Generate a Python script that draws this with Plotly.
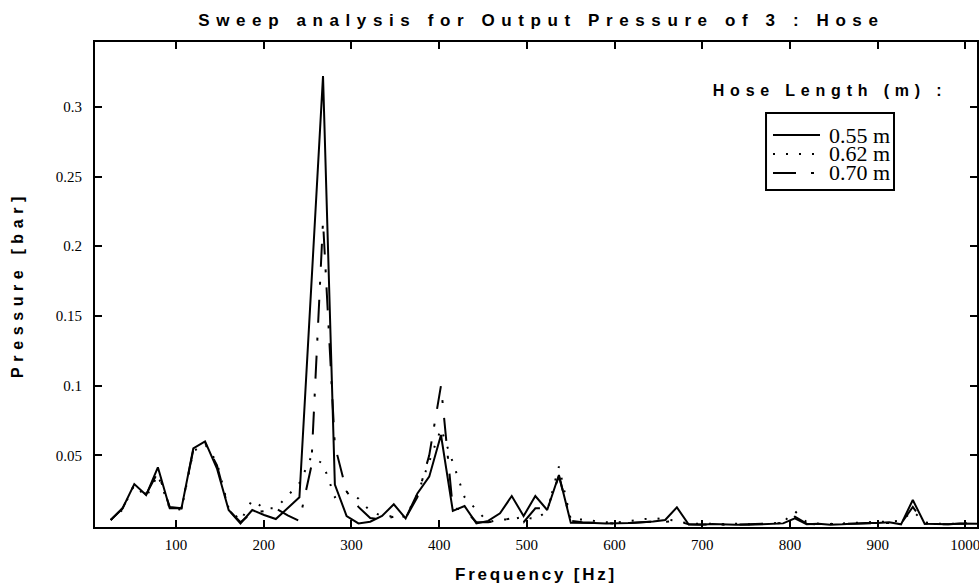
import plotly.graph_objects as go

# ---------------- data ----------------
freq_hz = [25.5, 39.0, 52.4, 65.9, 79.3, 92.8, 106.2, 119.7, 133.1, 146.6,
           160.0, 173.5, 186.9, 200.4, 213.8, 227.3, 240.7, 254.2, 267.6, 281.1,
           294.5, 308.0, 321.4, 334.9, 348.3, 361.8, 375.2, 388.7, 402.1, 415.6,
           429.0, 442.5, 455.9, 469.4, 482.8, 496.3, 509.7, 523.2, 536.6, 550.1,
           563.5, 577.0, 590.4, 603.9, 617.3, 630.8, 644.2, 657.7, 671.1, 684.6,
           698.0, 711.5, 724.9, 738.4, 751.8, 765.3, 778.7, 792.2, 805.6, 819.1,
           832.5, 846.0, 859.4, 872.9, 886.3, 899.8, 913.2, 926.7, 940.1, 953.6,
           967.0, 980.5, 993.9, 1007.4, 1020.8]

p_055 = [0.0036, 0.012, 0.0294, 0.0215, 0.0414, 0.012, 0.012, 0.055, 0.060, 0.0407,
         0.0108, 0.0012, 0.0108, 0.0072, 0.0043, 0.012, 0.0199, 0.171, 0.322, 0.029,
         0.0065, 0.0012, 0.0024, 0.0065, 0.0149, 0.0048, 0.0227, 0.0347, 0.0646, 0.0102,
         0.0136, 0.0012, 0.003, 0.0084, 0.0208, 0.0065, 0.0208, 0.0108, 0.0359, 0.0017,
         0.0018, 0.0015, 0.0012, 0.0012, 0.0015, 0.002, 0.0025, 0.0036, 0.0127, 0.0003,
         0.0002, 0.0008, 0.0003, 0.0002, 0.0002, 0.0005, 0.0010, 0.0012, 0.0048, 0.0005,
         0.0010, 0.0003, 0.0005, 0.0012, 0.0015, 0.0015, 0.0020, 0.0005, 0.0180, 0.0010,
         0.0010, 0.0005, 0.0012, 0.0012, 0.0008]

p_062 = [0.0036, 0.011, 0.029, 0.020, 0.036, 0.012, 0.011, 0.053, 0.058, 0.045,
         0.012, 0.003, 0.018, 0.012, 0.012, 0.021, 0.030, 0.049, 0.044, 0.020,
         0.024, 0.019, 0.010, 0.0065, 0.006, 0.006, 0.022, 0.045, 0.069, 0.045,
         0.020, 0.011, 0.002, 0.004, 0.004, 0.006, 0.004, 0.010, 0.042, 0.004,
         0.004, 0.003, 0.002, 0.002, 0.003, 0.004, 0.005, 0.004, 0.003, 0.001,
         0.0008, 0.0005, 0.0008, 0.001, 0.0005, 0.0008, 0.001, 0.002, 0.010, 0.002,
         0.001, 0.0008, 0.001, 0.0015, 0.002, 0.002, 0.0025, 0.003, 0.010, 0.002,
         0.001, 0.0008, 0.001, 0.0015, 0.001]

p_070 = [0.0036, 0.012, 0.029, 0.022, 0.038, 0.013, 0.012, 0.054, 0.059, 0.043,
         0.011, 0.002, 0.009, 0.010, 0.012, 0.007, 0.003, 0.042, 0.218, 0.057,
         0.024, 0.013, 0.005, 0.004, 0.006, 0.005, 0.020, 0.050, 0.100, 0.012,
         0.011, 0.002, 0.002, 0.003, 0.005, 0.002, 0.012, 0.012, 0.035, 0.003,
         0.002, 0.0015, 0.001, 0.001, 0.0015, 0.002, 0.0024, 0.0024, 0.003, 0.0005,
         0.0003, 0.0005, 0.0003, 0.0003, 0.0005, 0.0008, 0.001, 0.0015, 0.006, 0.001,
         0.0005, 0.0005, 0.0008, 0.001, 0.0012, 0.0015, 0.0015, 0.001, 0.013, 0.001,
         0.0008, 0.0005, 0.001, 0.001, 0.0008]

series_names = ["0.55 m", "0.62 m", "0.70 m"]
x_tick_vals = [100, 200, 300, 400, 500, 600, 700, 800, 900, 1000]
y_tick_vals = [0.05, 0.1, 0.15, 0.2, 0.25, 0.3]
y_tick_text = ["0.05", "0.1", "0.15", "0.2", "0.25", "0.3"]

# ---------------- styles ----------------
dash_styles = ["solid", "2px,11px", "23px,15px,3px,15px"]
SANS = "Liberation Sans, Arial, sans-serif"
SERIF = "Liberation Serif, Times New Roman, serif"

fig = go.Figure()
for name, vals, dash in zip(series_names, [p_055, p_062, p_070], dash_styles):
    fig.add_trace(go.Scatter(x=freq_hz, y=vals, mode="lines", name=name,
                             line=dict(color="black", width=2, dash=dash),
                             showlegend=False))

axis_common = dict(showline=True, linecolor="black", linewidth=2, mirror="ticks",
                   ticks="inside", ticklen=7, tickwidth=2, tickcolor="black",
                   showgrid=False, zeroline=False, automargin=False,
                   ticklabeloverflow="allow",
                   tickfont=dict(family=SERIF, size=15, color="black"))

fig.update_layout(
    width=979, height=587,
    margin=dict(l=95, r=2, t=42, b=60),
    paper_bgcolor="white", plot_bgcolor="white",
    title=dict(text="<b>Sweep analysis for Output Pressure of 3 : Hose</b>",
               x=0.553, xanchor="center", y=0.965, yanchor="middle",
               font=dict(family=SANS, size=17, color="black")),
    xaxis=dict(range=[7.6, 1013.3], tickvals=x_tick_vals,
               title=dict(text="<b>Frequency [Hz]</b>", standoff=16,
                          font=dict(family=SANS, size=17, color="black")),
               ticklabelstandoff=3, **axis_common),
    yaxis=dict(range=[-0.0014, 0.3465], tickvals=y_tick_vals, ticktext=y_tick_text,
               title=dict(text="<b>Pressure [bar]</b>", standoff=28,
                          font=dict(family=SANS, size=16, color="black")),
               ticklabelstandoff=8, **axis_common),
)

# ---------------- hand-built legend (box, samples, labels) ----------------
fig.add_shape(type="rect", xref="paper", yref="paper",
              x0=0.7608, x1=0.9059, y0=0.6948, y1=0.8536,
              line=dict(color="black", width=2), fillcolor="white", layer="above")
row_y = [0.8082, 0.7691, 0.7299]
for name, dash, yy in zip(series_names, dash_styles, row_y):
    fig.add_shape(type="line", xref="paper", yref="paper",
                  x0=0.7687, x1=0.8220, y0=yy, y1=yy,
                  line=dict(color="black", width=2, dash=dash), layer="above")
    fig.add_annotation(xref="paper", yref="paper", x=0.8299, y=yy,
                       xanchor="left", yanchor="middle", showarrow=False,
                       text=name, font=dict(family=SERIF, size=22, color="black"))
fig.add_annotation(xref="paper", yref="paper", x=0.8333, y=0.899,
                   xanchor="center", yanchor="middle", showarrow=False,
                   text="<b>Hose Length (m) :</b>",
                   font=dict(family=SANS, size=16, color="black"))

post = """
document.documentElement.style.margin='0';
document.body.style.margin='0';
document.body.style.padding='0';
var gd = document.getElementsByClassName('plotly-graph-div')[0];
function spread(){
  gd.querySelectorAll('.gtitle').forEach(function(t){t.style.letterSpacing='6.6px';});
  gd.querySelectorAll('.xtitle').forEach(function(t){t.style.letterSpacing='2.8px';});
  gd.querySelectorAll('.ytitle').forEach(function(t){t.style.letterSpacing='5.6px';});
  gd.querySelectorAll('.annotation-text').forEach(function(t){
     if (t.textContent.indexOf('Hose') >= 0) t.style.letterSpacing='5.8px';});
}
spread();
"""
fig.write_html("out.html", post_script=post, config={"displayModeBar": False})
